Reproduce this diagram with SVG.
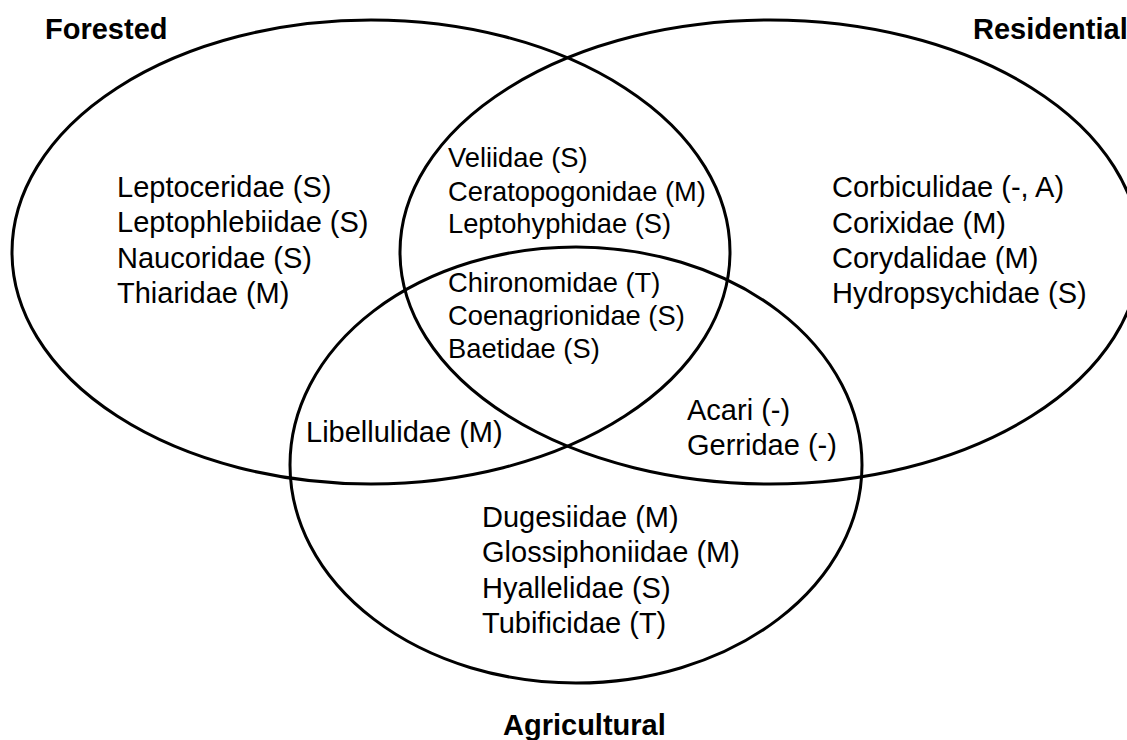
<svg xmlns="http://www.w3.org/2000/svg" width="1127" height="740" viewBox="0 0 1127 740">
<style>
.set{fill:none;stroke:#000;stroke-width:3}
.t{font-family:"Liberation Sans",Arial,sans-serif;font-size:29px;fill:#000}
.c{font-family:"Liberation Sans",Arial,sans-serif;font-size:27.3px;fill:#000}
.h{font-family:"Liberation Sans",Arial,sans-serif;font-size:29px;font-weight:bold;fill:#000}
</style>
<rect width="1127" height="740" fill="#fff"/>
<g id="forested">
<ellipse class="set" cx="371" cy="252" rx="359" ry="232"/>
<text class="h" x="45" y="39">Forested</text>
<text class="t" x="117" y="197">Leptoceridae (S)</text>
<text class="t" x="117" y="232">Leptophlebiidae (S)</text>
<text class="t" x="117" y="268">Naucoridae (S)</text>
<text class="t" x="117" y="303">Thiaridae (M)</text>
</g>
<g id="residential">
<ellipse class="set" cx="770" cy="252" rx="370" ry="232"/>
<text class="h" x="973" y="39">Residential</text>
<text class="t" x="832" y="197">Corbiculidae (-, A)</text>
<text class="t" x="832" y="233">Corixidae (M)</text>
<text class="t" x="832" y="268">Corydalidae (M)</text>
<text class="t" x="832" y="303">Hydropsychidae (S)</text>
</g>
<g id="agricultural">
<ellipse class="set" cx="576" cy="465" rx="286" ry="218"/>
<text class="h" x="503" y="735">Agricultural</text>
<text class="t" x="482" y="527">Dugesiidae (M)</text>
<text class="t" x="482" y="562">Glossiphoniidae (M)</text>
<text class="t" x="482" y="598">Hyallelidae (S)</text>
<text class="t" x="482" y="633">Tubificidae (T)</text>
</g>
<g id="forested-residential">
<text class="c" x="448" y="167">Veliidae (S)</text>
<text class="c" x="448" y="201">Ceratopogonidae (M)</text>
<text class="c" x="448" y="233">Leptohyphidae (S)</text>
</g>
<g id="all-three">
<text class="c" x="448" y="292">Chironomidae (T)</text>
<text class="c" x="448" y="325">Coenagrionidae (S)</text>
<text class="c" x="448" y="358">Baetidae (S)</text>
</g>
<g id="forested-agricultural">
<text class="t" x="306" y="442">Libellulidae (M)</text>
</g>
<g id="residential-agricultural">
<text class="t" x="687" y="420">Acari (-)</text>
<text class="t" x="687" y="455">Gerridae (-)</text>
</g>
<g id="connectors"></g>
</svg>
